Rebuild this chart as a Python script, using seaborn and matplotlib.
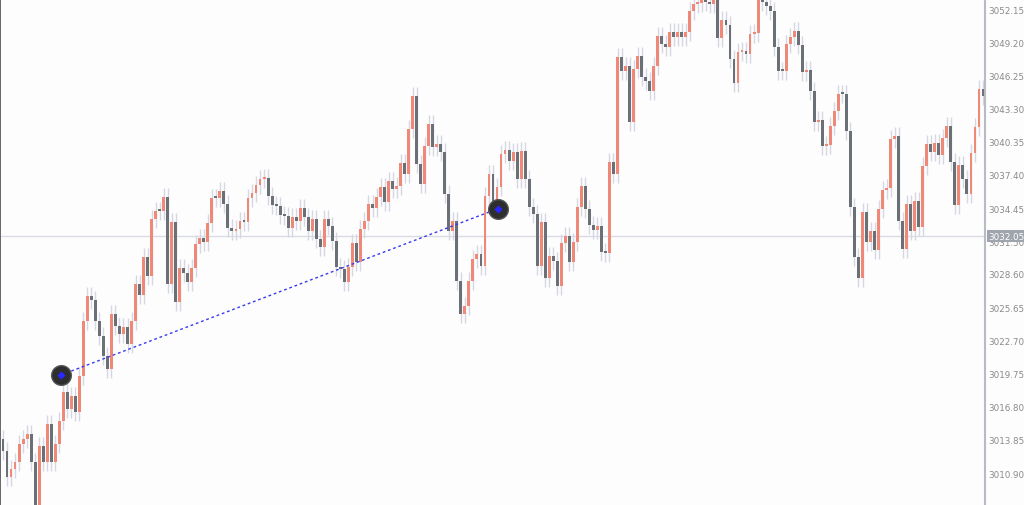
import numpy as np
import pandas as pd
import matplotlib
matplotlib.use("Agg")
import matplotlib.pyplot as plt
import seaborn as sns

close_px = [452,478,470,463,445,440,435,463,510,447,463,425,463,445,422,393,410,397,413,377,322,297,301,322,337,357,370,315,327,335,328,345,322,285,296,258,277,220,212,212,198,285,223,303,269,274,283,269,245,239,243,224,199,199,192,205,229,232,230,222,223,199,
            194,186,180,179,197,206,207,216,217,229,218,222,209,218,232,220,240,248,220,227,242,268,270,283,268,244,263,230,222,205,209,198,188,203,182,190,187,164,175,130,97,165,185,147,125,148,145,153,195,232,222,282,315,307,282,260,255,267,197,175,
            210,188,155,151,162,153,180,152,180,208,215,267,223,279,257,262,287,244,237,263,243,208,187,210,226,231,227,253,254,163,175,58,
            72,67,123,70,57,78,82,92,67,37,45,48,33,38,33,38,33,12,5,4,0,3,5,0,39,21,26,60,84,53,52,55,35,34,0,3,7,12,48,72,72,45,38,32,46,73,71,92,123,121,147,146,127,112,95,95,132,208,258,279,213,243,232,251,210,191,189,140,137,222,
            250,205,232,202,228,167,145,153,144,156,139,127,163,206,166,180,195,154,128,90,97]
first_open_px = 440

# price calibration: 3052.15 at row 11, 3010.90 at row 475
top_price = 3053.13
price_per_px = (3052.15 - 3010.90) / 464

tick_values = [3052.15, 3049.20, 3046.25, 3043.30, 3040.35, 3037.40, 3034.45, 3031.50,
               3028.60, 3025.65, 3022.70, 3019.75, 3016.80, 3013.85, 3010.90]
tick_labels = ["3052.15", "3049.20", "3046.25", "3043.30", "3040.35", "3037.40", "3034.45", "3031.50",
               "3028.60", "3025.65", "3022.70", "3019.75", "3016.80", "3013.85", "3010.90"]
current_price = 3032.05
current_label = "3032.05"
line_x = [14.4, 123.3]
line_y = [3019.7, 3034.5]

closes = top_price - np.array(close_px, dtype=float) * price_per_px
opens = np.concatenate([[top_price - first_open_px * price_per_px], closes[:-1]])
n = len(closes)
idx = np.arange(n)
df = pd.DataFrame({"i": idx, "open": opens, "close": closes})
df["up"] = df.close > df.open
wick = 0.8
df["high"] = np.maximum(df.open, df.close) + wick
df["low"] = np.minimum(df.open, df.close) - wick

sns.set_theme(style="white")
fig = plt.figure(figsize=(10.24, 5.06), dpi=100)
fig.patch.set_facecolor("#FDFDFE")
ax = fig.add_axes([0, 0, 985 / 1024, 1])
ax.set_facecolor("#FDFDFE")

UP = "#F08878"
DN = "#6B7076"
step = 980 / (n - 1)
ax.set_xlim(-3 / step, (985 - 3) / step)
ymin, ymax = top_price - 506 * price_per_px, top_price
ax.set_ylim(ymin, ymax)

ax.axhline(current_price, color="#DADCE4", lw=1, zorder=0)
ax.vlines(df.i, df.low, df.high, color="#D5D8E2", lw=1, zorder=1)
body_low = np.minimum(df.open, df.close)
body_h = np.maximum(np.abs(df.close - df.open), 0.15)
ax.bar(df.i, body_h, bottom=body_low, width=0.72,
       color=np.where(df.up, UP, DN), zorder=2, linewidth=0)

ldf = pd.DataFrame({"x": line_x, "y": line_y})
sns.lineplot(data=ldf, x="x", y="y", ax=ax, color="#3A3AF0", lw=1, linestyle=(0, (2, 2)), zorder=3)
ax.scatter(line_x, line_y, s=200, color="#2E2E2E", edgecolor="#555555", zorder=4)
ax.scatter(line_x, line_y, s=10, marker="D", color="#2828FF", zorder=5)

ax.set_xticks([])
ax.set_yticks([])
ax.set_xlabel("")
ax.set_ylabel("")
for s in ["top", "bottom"]:
    ax.spines[s].set_visible(False)
ax.spines["left"].set_color("#555555")
ax.spines["right"].set_color("#B8BBC2")
ax.spines["right"].set_linewidth(1.5)

xt = 1.003
for v, t in zip(tick_values, tick_labels):
    ax.text(xt, (v - ymin) / (ymax - ymin), t,
            transform=ax.transAxes, fontsize=6.3, color="#8A8A8A", va="center", ha="left",
            clip_on=False)
ax.text(xt, (current_price - ymin) / (ymax - ymin), current_label,
        transform=ax.transAxes, fontsize=6.3, color="#FFFFFF", va="center", ha="left",
        bbox=dict(boxstyle="square,pad=0.15", fc="#A0A4AC", ec="none"), clip_on=False, zorder=10)

fig.savefig("out.png", dpi=100, facecolor=fig.get_facecolor())
